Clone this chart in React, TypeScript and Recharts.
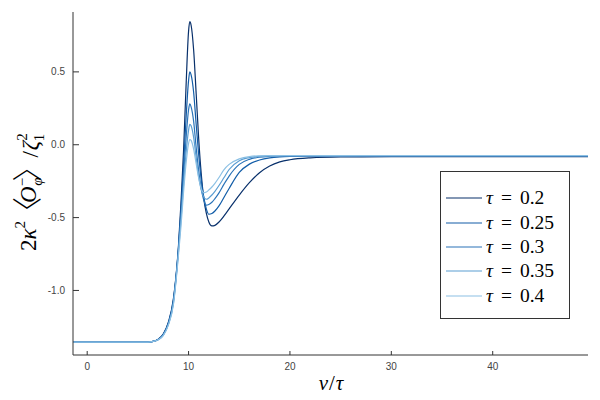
import React from 'react';
import { LineChart, Line, XAxis, YAxis, Customized } from 'recharts';

const xValues = [-1.4, 0, 2, 4, 5, 6, 6.5, 7, 7.5, 8, 8.5, 9, 9.25, 9.5, 9.75, 10, 10.12, 10.25, 10.5, 10.75, 11, 11.25, 11.5, 11.75, 12, 12.3, 12.6, 13, 13.5, 14, 15, 16, 17, 18, 19, 20, 22, 25, 30, 35, 40, 45, 49.4];

const tau02 = [-1.355, -1.355, -1.355, -1.355, -1.355, -1.354, -1.35, -1.335, -1.30, -1.22, -1.06, -0.70, -0.40, -0.05, 0.40, 0.78, 0.845, 0.82, 0.65, 0.35, 0.04, -0.20, -0.37, -0.47, -0.53, -0.557, -0.553, -0.53, -0.488, -0.44, -0.345, -0.26, -0.192, -0.146, -0.118, -0.103, -0.09, -0.084, -0.082, -0.081, -0.081, -0.081, -0.081];
const tau025 = [-1.355, -1.355, -1.355, -1.355, -1.355, -1.354, -1.35, -1.336, -1.302, -1.225, -1.07, -0.71, -0.45, -0.15, 0.18, 0.44, 0.50, 0.48, 0.36, 0.14, -0.07, -0.24, -0.36, -0.44, -0.477, -0.472, -0.455, -0.42, -0.36, -0.30, -0.19, -0.133, -0.105, -0.09, -0.083, -0.08, -0.078, -0.077, -0.077, -0.077, -0.077, -0.077, -0.077];
const tau03 = [-1.355, -1.355, -1.355, -1.355, -1.355, -1.354, -1.35, -1.337, -1.305, -1.23, -1.08, -0.72, -0.48, -0.22, 0.04, 0.24, 0.28, 0.26, 0.16, -0.02, -0.18, -0.30, -0.38, -0.415, -0.41, -0.395, -0.37, -0.33, -0.27, -0.215, -0.135, -0.10, -0.085, -0.079, -0.077, -0.076, -0.076, -0.076, -0.076, -0.076, -0.076, -0.076, -0.076];
const tau035 = [-1.355, -1.355, -1.355, -1.355, -1.355, -1.354, -1.35, -1.338, -1.308, -1.235, -1.09, -0.74, -0.52, -0.28, -0.06, 0.10, 0.14, 0.13, 0.05, -0.09, -0.22, -0.31, -0.36, -0.374, -0.365, -0.345, -0.32, -0.28, -0.225, -0.17, -0.11, -0.088, -0.079, -0.076, -0.075, -0.075, -0.075, -0.075, -0.075, -0.075, -0.075, -0.075, -0.075];
const tau04 = [-1.355, -1.355, -1.355, -1.355, -1.355, -1.354, -1.35, -1.339, -1.31, -1.24, -1.10, -0.76, -0.56, -0.33, -0.13, 0.01, 0.036, 0.03, -0.03, -0.13, -0.23, -0.30, -0.33, -0.325, -0.31, -0.29, -0.265, -0.225, -0.17, -0.135, -0.097, -0.081, -0.076, -0.075, -0.075, -0.075, -0.075, -0.075, -0.075, -0.075, -0.075, -0.075, -0.075];

const tauValues = ['0.2', '0.25', '0.3', '0.35', '0.4'];
const seriesColors = ['#08306b', '#125da8', '#2a73b8', '#5a9dd2', '#8cc0e4'];
const seriesKeys = ['s0', 's1', 's2', 's3', 's4'];
const xTicks = [0, 10, 20, 30, 40];
const yTicks = [-1.0, -0.5, 0.0, 0.5];

const allSeries = [tau02, tau025, tau03, tau035, tau04];
const data = xValues.map((x, i) => {
  const row: Record<string, number> = { x };
  allSeries.forEach((s, k) => {
    row[seriesKeys[k]] = s[i];
  });
  return row;
});

const serif = '"Liberation Serif", "DejaVu Serif", serif';
const sans = '"Liberation Sans", Arial, sans-serif';
const bracketFont = '"Noto Sans CJK JP", "DejaVu Sans", sans-serif';

const Titles = () => (
  <g>
    <text x={331} y={390} textAnchor="middle" fontFamily={serif} fontSize={21} fill="#000">
      <tspan fontStyle="italic">v</tspan>
      <tspan dx={1}>/</tspan>
      <tspan dx={1} fontStyle="italic">τ</tspan>
    </text>
    <text transform="translate(36,251) rotate(-90)" textAnchor="start" fontFamily={serif} fontSize={23} fill="#000">
      <tspan>2</tspan>
      <tspan fontStyle="italic">κ</tspan>
      <tspan fontSize={15} dy={-11}>2</tspan>
      <tspan fontFamily={bracketFont} fontWeight={300} fontSize={30} dy={13} dx={-6}>〈</tspan>
      <tspan fontStyle="italic" dy={-2} dx={-6}>O</tspan>
      <tspan fontSize={15} dy={-9}>−</tspan>
      <tspan fontSize={15} fontStyle="italic" dx={-8} dy={15}>φ</tspan>
      <tspan fontFamily={bracketFont} fontWeight={300} fontSize={30} dy={-4} dx={-4}>〉</tspan>
      <tspan dx={-6}>/</tspan>
      <tspan fontStyle="italic" dx={1}>ζ</tspan>
      <tspan fontSize={15} dy={-11}>2</tspan>
      <tspan fontSize={15} dx={-8} dy={17}>1</tspan>
    </text>
  </g>
);

const LegendBox = () => (
  <div
    style={{
      position: 'absolute',
      left: 440,
      top: 171,
      width: 130,
      height: 148,
      border: '1px solid #333',
      boxSizing: 'border-box',
      background: '#fff',
      paddingTop: 14,
      fontFamily: serif,
      fontSize: 19.5,
      color: '#000',
    }}
  >
    {tauValues.map((t, i) => (
      <div key={t} style={{ display: 'flex', alignItems: 'center', height: 24.35 }}>
        <svg width={36} height={4} style={{ marginLeft: 5, display: 'block' }}>
          <line x1={0} y1={2} x2={36} y2={2} stroke={seriesColors[i]} strokeWidth={1.2} />
        </svg>
        <span style={{ marginLeft: 4, whiteSpace: 'nowrap', lineHeight: '20px' }}>
          <i>τ</i>
          <span style={{ margin: '0 8px' }}>=</span>
          {t}
        </span>
      </div>
    ))}
  </div>
);

export default function App() {
  return (
    <div style={{ position: 'absolute', left: 0, top: 0, width: 600, height: 400, background: '#fff' }}>
      <LineChart width={600} height={400} data={data} margin={{ top: 12, right: 12, left: 0, bottom: 15 }}>
        <XAxis
          dataKey="x"
          type="number"
          domain={[-1.4, 49.4]}
          ticks={xTicks}
          allowDataOverflow
          height={30}
          tickSize={-4}
          tickMargin={12}
          stroke="#333"
          tickLine={{ stroke: '#333' }}
          tick={{ fontSize: 10, fill: '#444', fontFamily: sans }}
        />
        <YAxis
          type="number"
          domain={[-1.443, 0.911]}
          ticks={yTicks}
          allowDataOverflow
          width={73}
          tickSize={-6}
          tickMargin={14}
          stroke="#333"
          tickLine={{ stroke: '#333' }}
          tickFormatter={(v: number) => v.toFixed(1)}
          tick={{ fontSize: 10, fill: '#444', fontFamily: sans }}
        />
        {seriesKeys.map((k, i) => (
          <Line
            key={k}
            dataKey={k}
            name={`τ = ${tauValues[i]}`}
            type="monotone"
            stroke={seriesColors[i]}
            strokeWidth={1.2}
            dot={false}
            isAnimationActive={false}
          />
        ))}
        <Customized component={<Titles />} />
      </LineChart>
      <LegendBox />
    </div>
  );
}
